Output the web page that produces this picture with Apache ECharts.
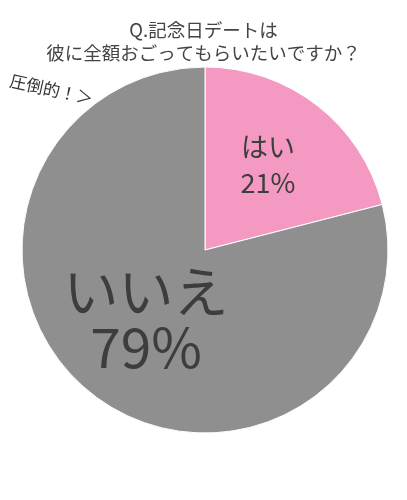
<!DOCTYPE html>
<html>
<head>
<meta charset="utf-8">
<script src="https://cdn.jsdelivr.net/npm/echarts@6/dist/echarts.min.js"></script>
<style>
  html, body { margin: 0; padding: 0; background: #fff; }
  #pieChart { width: 407px; height: 500px; }
</style>
</head>
<body>
<div id="pieChart"></div>
<script>
// data
var categories = ['はい', 'いいえ'];
var values = [21, 79];
var colors = ['#f49ac2', '#8f8f8f'];
var titleLines = ['Q.記念日デートは', '彼に全額おごってもらいたいですか？'];
var note = '圧倒的！＞';

var font = '"Noto Sans CJK JP", "Noto Sans", sans-serif';
var textColor = '#3d3d3d';

var pie = echarts.init(document.getElementById('pieChart'));
var option = {
    animation: false,
    title: {
        text: titleLines.join('\n'),
        left: 'center',
        top: 13,
        textStyle: {
            fontFamily: font,
            fontWeight: 'normal',
            fontSize: 18.5,
            lineHeight: 23,
            color: '#444'
        }
    },
    graphic: [
        {
            type: 'text',
            x: 12, y: 72,
            rotation: -0.22,
            style: { text: note, font: '17px ' + font, fill: '#333' }
        },
        {
            type: 'text',
            x: 268, y: 165, z: 100,
            style: {
                text: categories[0] + '\n' + values[0] + '%',
                font: '27px ' + font, fill: textColor,
                align: 'center', verticalAlign: 'middle', lineHeight: 36
            }
        },
        {
            type: 'text',
            x: 146, y: 319, z: 100,
            style: {
                text: categories[1] + '\n' + values[1] + '%',
                font: '55px ' + font, fill: textColor,
                align: 'center', verticalAlign: 'middle', lineHeight: 56
            }
        }
    ],
    series: [{
        type: 'pie',
        center: [205, 250],
        radius: 183,
        startAngle: 90,
        clockwise: true,
        label: { show: false },
        labelLine: { show: false },
        itemStyle: { borderColor: '#fff', borderWidth: 1 },
        data: categories.map(function (c, i) {
            return { name: c, value: values[i], itemStyle: { color: colors[i] } };
        })
    }]
};
pie.setOption(option, true);
</script>
</body>
</html>
